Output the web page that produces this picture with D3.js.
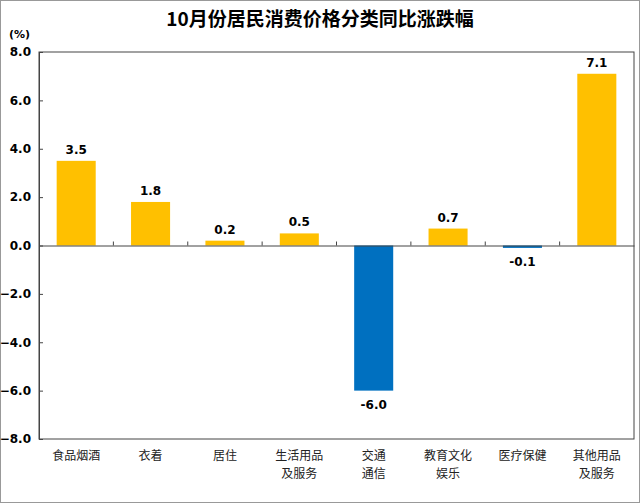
<!DOCTYPE html>
<html>
<head>
<meta charset="utf-8">
<script src="https://cdn.jsdelivr.net/npm/d3@7"></script>
<style>
  body { margin: 0; background: #fff; }
  svg { display: block; }
</style>
</head>
<body>
<script>
// data
var categories = ["食品烟酒", "衣着", "居住", "生活用品\n及服务", "交通\n通信", "教育文化\n娱乐", "医疗保健", "其他用品\n及服务"];
var values = [3.5, 1.8, 0.2, 0.5, -6.0, 0.7, -0.1, 7.1];
var yTicks = [-8, -6, -4, -2, 0, 2, 4, 6, 8];

var svgWidth = 640;
var svgHeight = 503;
var margin = { top: 52, right: 6, bottom: 64, left: 39 };
var width = svgWidth - margin.left - margin.right;
var height = svgHeight - margin.top - margin.bottom;

var svg = d3.select("body").append("svg")
  .attr("width", svgWidth)
  .attr("height", svgHeight);

// outer frame
svg.append("rect")
  .attr("x", 0.5).attr("y", 0.5)
  .attr("width", svgWidth - 1).attr("height", svgHeight - 1)
  .attr("fill", "#fff").attr("stroke", "#999");

svg.append("text")
  .attr("x", 320).attr("y", 26)
  .attr("text-anchor", "middle")
  .style("font-family", "'Noto Sans CJK SC', sans-serif")
  .style("font-size", "19px").style("font-weight", "bold")
  .text("10月份居民消费价格分类同比涨跌幅");

svg.append("text")
  .attr("x", 9).attr("y", 38)
  .style("font-family", "'DejaVu Sans', sans-serif")
  .style("font-size", "11px").style("font-weight", "bold")
  .text("(%)");

var chartGroup = svg.append("g")
  .attr("transform", `translate(${margin.left}, ${margin.top})`);

var xScale = d3.scaleBand()
  .domain(categories)
  .range([0, width])
  .paddingInner(0.475)
  .paddingOuter(0.2375);

var bandX = d3.scaleBand().domain(categories).range([0, width]);

var yScale = d3.scaleLinear()
  .domain([-8, 8])
  .range([height, 0]);

// plot box
chartGroup.append("rect")
  .attr("width", width).attr("height", height)
  .attr("fill", "none").attr("stroke", "#444").attr("stroke-width", 1);

// y axis, ticks pointing inward
var leftAxis = d3.axisLeft(yScale).tickValues(yTicks).tickFormat(d3.format(".1f")).tickSize(-4);
var yAxisG = chartGroup.append("g").call(leftAxis);
yAxisG.select(".domain").attr("stroke", "#444");
yAxisG.selectAll(".tick line").attr("stroke", "#444");
yAxisG.selectAll(".tick text")
  .attr("x", -8)
  .style("font-family", "'DejaVu Sans', sans-serif")
  .style("font-size", "12px").style("font-weight", "bold")
  .attr("fill", "#000");

// bars
chartGroup.selectAll(".bar")
  .data(values)
  .enter().append("rect")
  .attr("x", (d, i) => xScale(categories[i]))
  .attr("width", xScale.bandwidth())
  .attr("y", d => yScale(Math.max(0, d)))
  .attr("height", d => Math.abs(yScale(d) - yScale(0)))
  .attr("fill", d => d >= 0 ? "#FFC000" : "#0070C0");

// zero line with upward ticks at band boundaries
var zeroAxis = d3.axisTop(bandX).tickSize(0).tickFormat("");
var zeroG = chartGroup.append("g")
  .attr("transform", `translate(0, ${yScale(0)})`)
  .call(zeroAxis);
zeroG.select(".domain").attr("stroke", "#444");
zeroG.selectAll(".sep")
  .data(categories.slice(1))
  .enter().append("line")
  .attr("x1", d => bandX(d)).attr("x2", d => bandX(d))
  .attr("y1", 0).attr("y2", -4)
  .attr("stroke", "#444");

// value labels
chartGroup.selectAll(".val")
  .data(values)
  .enter().append("text")
  .attr("x", (d, i) => xScale(categories[i]) + xScale.bandwidth() / 2)
  .attr("y", d => d >= 0 ? yScale(d) - 7 : yScale(d) + 18)
  .attr("text-anchor", "middle")
  .style("font-family", "'DejaVu Sans', sans-serif")
  .style("font-size", "12px").style("font-weight", "bold")
  .text(d => d.toFixed(1));

// category labels
var catG = chartGroup.selectAll(".cat")
  .data(categories)
  .enter().append("text")
  .attr("text-anchor", "middle")
  .style("font-family", "'Noto Sans CJK SC', serif")
  .style("font-size", "12px")
  .attr("fill", "#222");
catG.each(function(d) {
  var t = d3.select(this);
  d.split("\n").forEach(function(line, k) {
    t.append("tspan")
      .attr("x", bandX(d) + bandX.bandwidth() / 2)
      .attr("y", height + 21 + k * 18)
      .text(line);
  });
});
</script>
</body>
</html>
